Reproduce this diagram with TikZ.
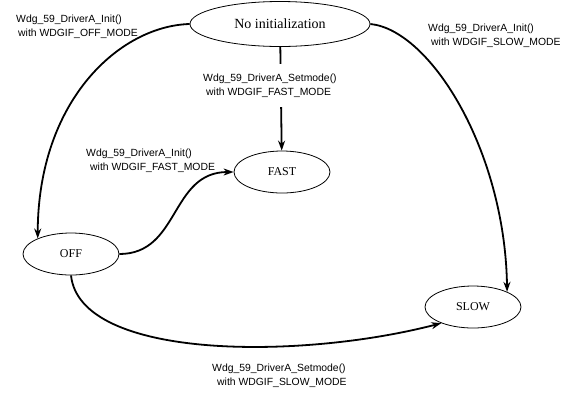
\documentclass[tikz,border=0pt]{standalone}
\usepackage{fontspec}
\setmainfont{Liberation Serif}
\newfontfamily\cmdfont{Liberation Sans}
\usetikzlibrary{shapes.geometric,arrows.meta}

\begin{document}
\begin{tikzpicture}[x=1pt, y=-1pt,
    state/.style={draw, shape=ellipse, line width=0.8pt, inner sep=0pt, minimum width=96pt, minimum height=42pt, font=\fontsize{12}{14}\selectfont},
    cmd/.style={anchor=north west, inner sep=0pt, align=left, font=\cmdfont\fontsize{10.4}{13.5}\selectfont},
    trans/.style={line width=1.8pt, -{Stealth[length=10pt,width=7pt]}}]
  \useasboundingbox (0,0) rectangle (579,400);

  % States
  \node[state, minimum width=180pt, minimum height=45pt, font=\fontsize{14}{16}\selectfont] (noinit) at (280,24) {No initialization};
  \node[state] (fast) at (282,172) {FAST};
  \node[state] (off) at (71,254) {OFF};
  \node[state] (slow) at (473,307) {SLOW};

  % Transitions
  \draw[trans] (noinit) -- (fast);
  \draw[trans] (noinit.west) .. controls (120,26) and (38,100) .. (off.155);
  \draw[trans] (noinit.east) .. controls (430,30) and (505,150) .. (slow.24);
  \draw[trans] (off.east) .. controls (180,254) and (170,172) .. (fast.west);
  \draw[trans] (off.south) .. controls (80,360) and (300,360) .. (slow.207);

  % Labels
  \node[cmd] (initoff) at (16,15) {Wdg\_59\_DriverA\_Init()\\\hspace*{2pt}with WDGIF\_OFF\_MODE};
  \node[cmd] (initslow) at (428,24) {Wdg\_59\_DriverA\_Init()\\\hspace*{3pt}with WDGIF\_SLOW\_MODE};
  \node[cmd] (initfast) at (86,149) {Wdg\_59\_DriverA\_Init()\\\hspace*{4pt}with WDGIF\_FAST\_MODE};
  \node[cmd, fill=white, inner ysep=10pt] (setfast) at (203,64) {Wdg\_59\_DriverA\_Setmode()\\\hspace*{3pt}with WDGIF\_FAST\_MODE};
  \node[cmd] (setslow) at (212,364) {Wdg\_59\_DriverA\_Setmode()\\\hspace*{5pt}with WDGIF\_SLOW\_MODE};
\end{tikzpicture}
\end{document}
